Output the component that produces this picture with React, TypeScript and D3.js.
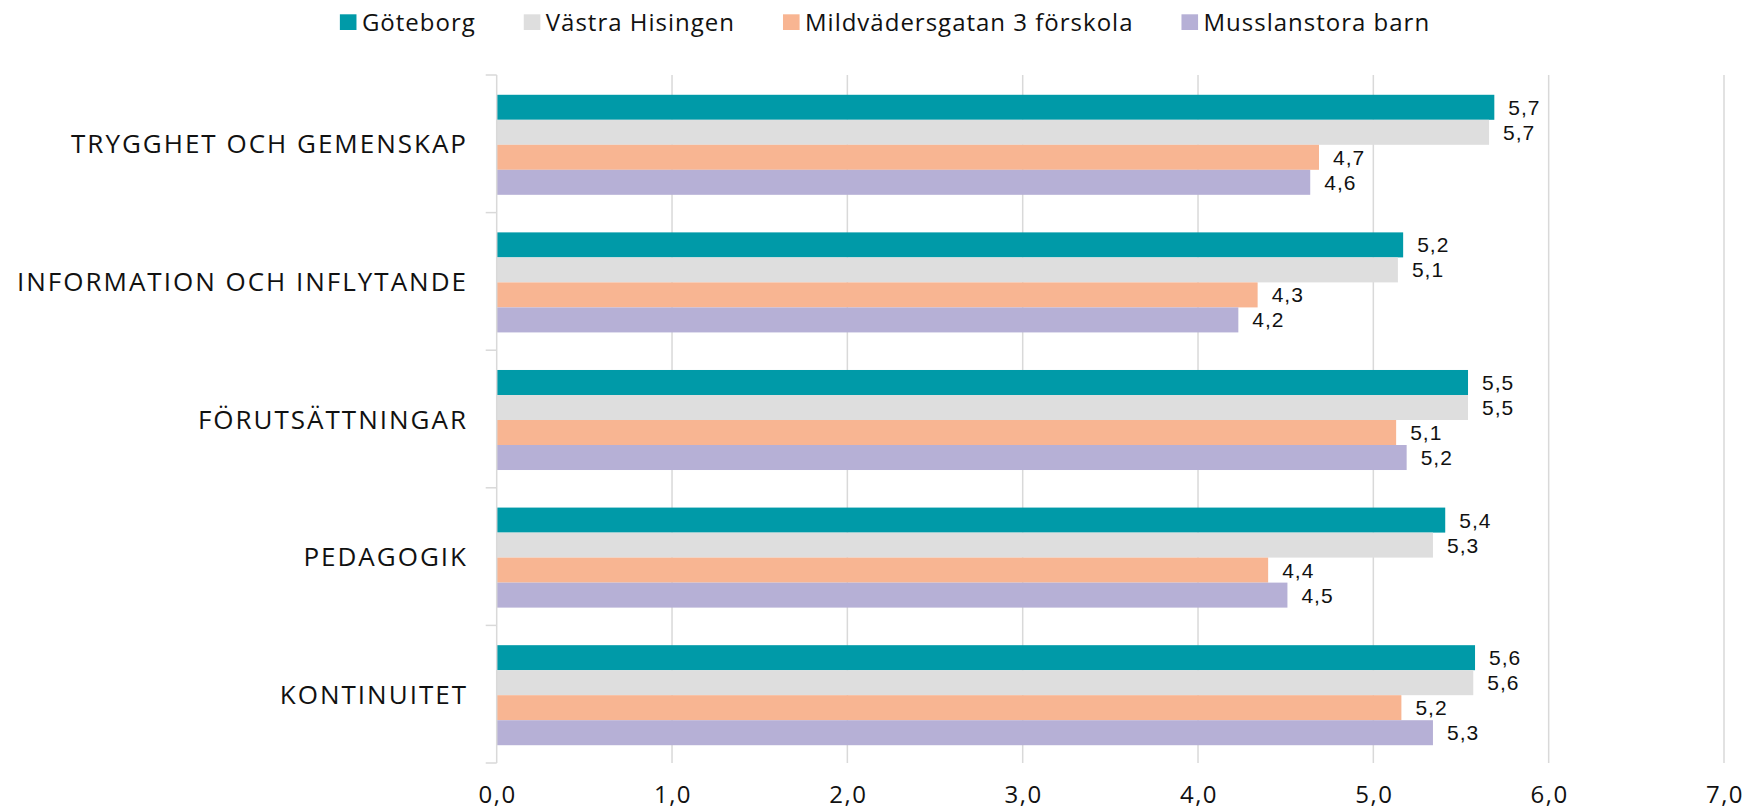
import React, { useEffect, useRef } from "react";
import * as d3 from "d3";

const categories = [
  "TRYGGHET OCH GEMENSKAP",
  "INFORMATION OCH INFLYTANDE",
  "FÖRUTSÄTTNINGAR",
  "PEDAGOGIK",
  "KONTINUITET",
];

const seriesNames = ["Göteborg", "Västra Hisingen", "Mildvädersgatan 3 förskola", "Musslanstora barn"];
const seriesColors = ["#009aa8", "#dedede", "#f8b592", "#b6b0d6"];

// one array per series, in category order
const goteborg = [5.69, 5.17, 5.54, 5.41, 5.58];
const vastraHisingen = [5.66, 5.14, 5.54, 5.34, 5.57];
const mildvadersgatan = [4.69, 4.34, 5.13, 4.40, 5.16];
const musslanstora = [4.64, 4.23, 5.19, 4.51, 5.34];

const xTicks = [0, 1, 2, 3, 4, 5, 6, 7];

const W = 1744;
const H = 812;

export default function App() {
  const ref = useRef<SVGSVGElement>(null);

  useEffect(() => {
    document.body.style.margin = "0";
    const svg = d3.select(ref.current);
    svg.selectAll("*").remove();

    const values = [goteborg, vastraHisingen, mildvadersgatan, musslanstora];
    const margin = { left: 496.7, right: W - 1724, top: 75, bottom: H - 763 };

    const x = d3.scaleLinear().domain([0, 7]).range([margin.left, W - margin.right]);
    const y = d3.scaleBand<string>().domain(categories).range([margin.top, H - margin.bottom]).padding(0);
    const groupH = y.bandwidth() * 0.727;
    const inner = d3.scaleBand<number>()
      .domain(d3.range(seriesNames.length))
      .range([(y.bandwidth() - groupH) / 2 + 1, (y.bandwidth() + groupH) / 2 + 1])
      .padding(0);

    const fmt = (v: number) => d3.format(".1f")(v).replace(".", ",");

    // gridlines
    svg.append("g")
      .selectAll("line")
      .data(xTicks.slice(1))
      .enter().append("line")
      .attr("x1", (d) => x(d)).attr("x2", (d) => x(d))
      .attr("y1", margin.top).attr("y2", H - margin.bottom)
      .attr("stroke", "#d9d9d9")
      .attr("stroke-width", 1.5);

    // bars
    const groups = svg.append("g")
      .selectAll("g")
      .data(categories)
      .enter().append("g")
      .attr("transform", (d) => `translate(0,${y(d)})`);

    groups.each(function (cat, ci) {
      const g = d3.select(this);
      values.forEach((arr, si) => {
        g.append("rect")
          .attr("x", x(0))
          .attr("y", inner(si)!)
          .attr("width", x(arr[ci]) - x(0))
          .attr("height", inner.bandwidth())
          .attr("fill", seriesColors[si]);
        g.append("text")
          .attr("x", x(arr[ci]) + 14)
          .attr("y", inner(si)! + inner.bandwidth() / 2)
          .attr("dy", "0.36em")
          .attr("font-family", "Liberation Sans, Arial, sans-serif")
          .attr("font-size", 21)
          .attr("letter-spacing", 1)
          .attr("fill", "#111")
          .text(fmt(arr[ci]));
      });
    });

    // y axis line with ticks at band edges
    const yAxis = svg.append("g");
    yAxis.append("line")
      .attr("x1", x(0)).attr("x2", x(0))
      .attr("y1", margin.top).attr("y2", H - margin.bottom)
      .attr("stroke", "#d9d9d9").attr("stroke-width", 1.5);
    const edges = categories.map((c) => y(c)!).concat([H - margin.bottom]);
    yAxis.selectAll(".tk")
      .data(edges)
      .enter().append("line")
      .attr("class", "tk")
      .attr("x1", x(0) - 11).attr("x2", x(0))
      .attr("y1", (d) => d).attr("y2", (d) => d)
      .attr("stroke", "#d9d9d9").attr("stroke-width", 1.5);

    yAxis.selectAll(".cat")
      .data(categories)
      .enter().append("text")
      .attr("class", "cat")
      .attr("x", 468)
      .attr("y", (d) => y(d)! + y.bandwidth() / 2 + 9.5)
      .attr("text-anchor", "end")
      .attr("font-family", "Open Sans, sans-serif")
      .attr("font-size", 26)
      .attr("letter-spacing", 2)
      .attr("fill", "#111")
      .text((d) => d);

    // x tick labels
    svg.append("g")
      .selectAll("text")
      .data(xTicks)
      .enter().append("text")
      .attr("x", (d) => x(d) + 1)
      .attr("y", 803)
      .attr("text-anchor", "middle")
      .attr("font-family", "Open Sans, sans-serif")
      .attr("font-size", 24)
      .attr("letter-spacing", 1.5)
      .attr("fill", "#111")
      .text((d) => fmt(d));

    // legend
    const legend = svg.append("g");
    const items = legend.selectAll("g")
      .data(seriesNames)
      .enter().append("g");
    items.append("rect")
      .attr("width", 16.6).attr("height", 15.7)
      .attr("y", 14.3)
      .attr("fill", (d, i) => seriesColors[i]);
    items.append("text")
      .attr("x", 22)
      .attr("y", 31)
      .attr("font-family", "Open Sans, sans-serif")
      .attr("font-size", 24)
      .attr("letter-spacing", 1)
      .attr("fill", "#111")
      .text((d) => d);

    const widths: number[] = [];
    items.select("text").each(function () {
      widths.push(22 + (this as SVGTextElement).getComputedTextLength());
    });
    const gap = 48;
    const total = d3.sum(widths) + gap * (widths.length - 1);
    let cx = 885 - total / 2;
    items.attr("transform", (d, i) => {
      const t = `translate(${cx},0)`;
      cx += widths[i] + gap;
      return t;
    });
  }, []);

  return <svg ref={ref} width={W} height={H} style={{ display: "block", background: "#fff" }} />;
}
